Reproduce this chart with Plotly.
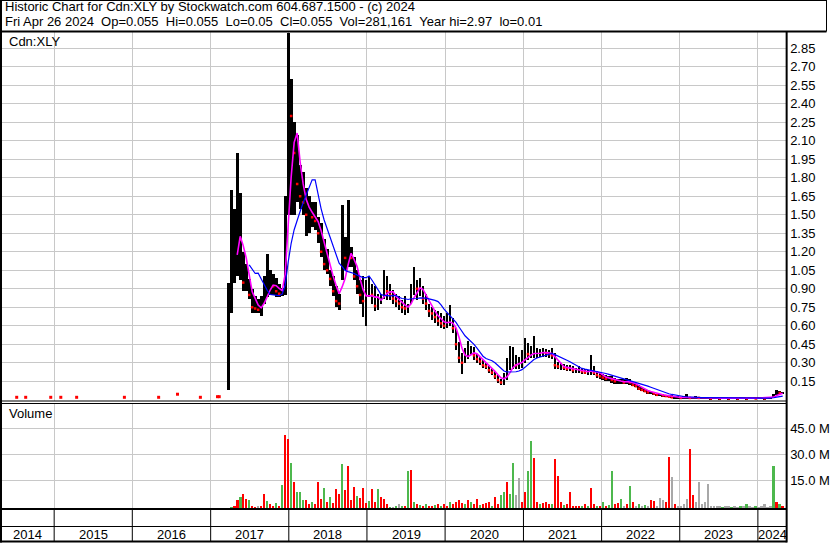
import pandas as pd
import plotly.graph_objects as go

W, H = 830, 543
FONT = "Liberation Sans, Arial, sans-serif"
GRID = "#c8c8c8"

# view window of the chart (10 years)
X0, X1 = "2014-04-23", "2024-05-12"

# biweekly bars, last one is Fri Apr 26 2024
bar_dates = pd.date_range(end="2024-04-26", periods=186, freq="14D")

highs = [
    0.95, 1.70, 1.55, 2.00, 1.68, 1.20, 1.10, 0.98, 0.90, 0.84,
    0.82, 0.84, 1.00, 1.18, 1.05, 1.02, 0.99, 0.94, 0.91, 1.65,
    2.97, 2.60, 2.25, 2.15, 1.90, 1.85, 1.72, 1.65, 1.60, 1.60,
    1.48, 1.43, 1.30, 1.22, 1.05, 1.00, 0.92, 0.86, 1.58, 1.32,
    1.62, 1.24, 1.16, 1.05, 0.97, 1.00, 0.97, 1.00, 0.94, 0.92,
    0.86, 0.86, 1.05, 1.00, 0.94, 0.89, 0.86, 0.84, 0.81, 0.84,
    0.78, 0.94, 1.08, 0.97, 0.99, 0.92, 0.86, 0.78, 0.75, 0.73,
    0.72, 0.70, 0.68, 0.70, 0.77, 0.66, 0.58, 0.47, 0.38, 0.42,
    0.48, 0.44, 0.43, 0.37, 0.35, 0.32, 0.30, 0.28, 0.26, 0.23,
    0.20, 0.17, 0.22, 0.34, 0.44, 0.43, 0.36, 0.35, 0.40, 0.50,
    0.46, 0.44, 0.52, 0.42, 0.41, 0.42, 0.41, 0.40, 0.42, 0.38,
    0.31, 0.30, 0.29, 0.28, 0.28, 0.27, 0.26, 0.27, 0.26, 0.25,
    0.24, 0.36, 0.27, 0.23, 0.22, 0.21, 0.20, 0.19, 0.19, 0.18,
    0.17, 0.17, 0.17, 0.18, 0.17, 0.14, 0.13, 0.12, 0.10, 0.09,
    0.08, 0.07, 0.06, 0.05, 0.05, 0.045, 0.04, 0.04, 0.035, 0.03,
    0.03, 0.025, 0.03, 0.045, 0.025, 0.025, 0.03, 0.025, 0.025, 0.02,
    0.025, 0.02, 0.025, 0.025, 0.02, 0.02, 0.025, 0.02, 0.02, 0.025,
    0.02, 0.02, 0.025, 0.02, 0.02, 0.02, 0.025, 0.02, 0.02, 0.02,
    0.025, 0.025, 0.05, 0.08, 0.07, 0.065,
]
lows = [
    0.08, 0.70, 0.95, 1.00, 0.97, 0.88, 0.88, 0.82, 0.70, 0.70,
    0.70, 0.68, 0.78, 0.83, 0.85, 0.85, 0.83, 0.83, 0.84, 0.85,
    1.50, 1.50, 1.50, 1.60, 1.55, 1.50, 1.33, 1.35, 1.40, 1.38,
    1.27, 1.16, 1.05, 1.02, 0.92, 0.84, 0.75, 0.73, 0.97, 1.05,
    1.08, 1.08, 0.97, 0.86, 0.78, 0.67, 0.60, 0.83, 0.78, 0.72,
    0.73, 0.78, 0.82, 0.81, 0.81, 0.78, 0.75, 0.73, 0.70, 0.69,
    0.70, 0.78, 0.85, 0.81, 0.84, 0.78, 0.73, 0.67, 0.65, 0.62,
    0.60, 0.58, 0.57, 0.58, 0.60, 0.54, 0.40, 0.30, 0.21, 0.30,
    0.33, 0.36, 0.32, 0.30, 0.28, 0.26, 0.25, 0.22, 0.20, 0.17,
    0.14, 0.12, 0.12, 0.16, 0.24, 0.25, 0.25, 0.25, 0.26, 0.30,
    0.32, 0.34, 0.34, 0.34, 0.35, 0.35, 0.35, 0.34, 0.33, 0.25,
    0.25, 0.24, 0.24, 0.23, 0.23, 0.22, 0.22, 0.22, 0.21, 0.21,
    0.20, 0.20, 0.20, 0.18, 0.17, 0.16, 0.15, 0.15, 0.14, 0.13,
    0.13, 0.13, 0.13, 0.13, 0.12, 0.11, 0.10, 0.08, 0.07, 0.06,
    0.05, 0.05, 0.04, 0.03, 0.03, 0.025, 0.02, 0.02, 0.015, 0.01,
    0.01, 0.01, 0.01, 0.01, 0.01, 0.005, 0.01, 0.01, 0.005, 0.01,
    0.01, 0.005, 0.01, 0.01, 0.005, 0.01, 0.01, 0.005, 0.01, 0.01,
    0.005, 0.01, 0.01, 0.005, 0.01, 0.01, 0.005, 0.01, 0.01, 0.005,
    0.01, 0.01, 0.015, 0.035, 0.045, 0.05,
]
closes = [
    0.70, 1.25, 1.35, 1.40, 1.30, 0.95, 0.95, 0.85, 0.75, 0.74,
    0.73, 0.76, 0.90, 0.95, 0.95, 0.92, 0.88, 0.86, 0.88, 1.45,
    2.60, 2.30, 2.00, 1.75, 1.65, 1.60, 1.50, 1.50, 1.48, 1.45,
    1.35, 1.20, 1.10, 1.05, 0.98, 0.88, 0.80, 0.78, 1.20, 1.15,
    1.25, 1.15, 1.00, 0.92, 0.85, 0.80, 0.80, 0.92, 0.85, 0.76,
    0.80, 0.82, 0.95, 0.88, 0.85, 0.82, 0.80, 0.78, 0.75, 0.74,
    0.74, 0.88, 0.95, 0.90, 0.90, 0.82, 0.78, 0.72, 0.70, 0.67,
    0.64, 0.62, 0.60, 0.64, 0.66, 0.58, 0.45, 0.34, 0.30, 0.36,
    0.40, 0.40, 0.36, 0.33, 0.31, 0.28, 0.27, 0.24, 0.22, 0.19,
    0.16, 0.14, 0.19, 0.25, 0.30, 0.30, 0.28, 0.30, 0.33, 0.38,
    0.37, 0.37, 0.38, 0.38, 0.38, 0.39, 0.38, 0.37, 0.36, 0.28,
    0.27, 0.27, 0.26, 0.25, 0.26, 0.24, 0.24, 0.24, 0.23, 0.22,
    0.22, 0.26, 0.22, 0.20, 0.19, 0.18, 0.17, 0.17, 0.16, 0.15,
    0.15, 0.15, 0.14, 0.15, 0.14, 0.12, 0.11, 0.09, 0.08, 0.07,
    0.06, 0.06, 0.05, 0.04, 0.04, 0.035, 0.03, 0.025, 0.02, 0.02,
    0.02, 0.015, 0.02, 0.02, 0.015, 0.015, 0.02, 0.015, 0.015, 0.015,
    0.015, 0.01, 0.015, 0.015, 0.01, 0.015, 0.015, 0.01, 0.015, 0.015,
    0.01, 0.015, 0.015, 0.01, 0.015, 0.015, 0.01, 0.015, 0.015, 0.01,
    0.015, 0.02, 0.04, 0.06, 0.055, 0.055,
]
# volume in millions of shares
volumes = [
    0.5, 0.8, 2.0, 5.5, 7.0, 9.0, 6.0, 5.5, 1.5, 1.0,
    2.0, 1.5, 9.0, 4.5, 3.0, 2.0, 3.5, 1.5, 14.0, 43.0,
    41.0, 27.0, 16.0, 10.0, 10.0, 5.0, 5.5, 3.0, 4.0, 3.0,
    16.0, 6.0, 12.4, 4.0, 7.0, 3.5, 11.5, 8.6, 26.0, 11.0,
    25.0, 5.0, 12.6, 7.5, 6.4, 12.0, 3.5, 4.5, 11.5, 4.0,
    11.5, 7.0, 6.0, 3.0, 1.0, 1.0, 1.5, 3.0, 2.0, 1.5,
    22.0, 23.0, 4.0, 3.0, 2.5, 2.0, 3.0, 2.0, 2.0, 2.5,
    3.0, 2.0, 3.0, 2.0, 4.0, 3.0, 4.0, 5.0, 3.5, 3.0,
    5.5, 4.0, 3.0, 6.0, 2.5, 3.0, 3.5, 4.0, 2.0, 7.0,
    3.0, 8.0, 10.0, 15.5, 9.0, 27.0, 8.0, 18.0, 4.0, 10.0,
    22.0, 40.0, 30.0, 4.0, 3.0, 3.5, 4.0, 3.0, 3.0, 29.5,
    19.0, 4.0, 2.5, 3.0, 10.0, 2.0, 2.0, 1.5, 2.0, 3.0,
    2.0, 12.0, 3.0, 2.0, 2.0, 4.0, 2.0, 2.5, 22.0, 3.0,
    3.5, 6.0, 2.0, 3.0, 13.5, 4.0, 2.0, 3.0, 2.0, 2.5,
    1.5, 5.0, 4.5, 2.0, 6.5, 5.5, 4.0, 30.5, 18.6, 3.0,
    2.0, 1.5, 3.0, 6.0, 35.0, 8.0, 4.0, 15.5, 3.0, 4.0,
    14.6, 2.0, 1.5, 2.0, 1.5, 1.0, 2.0, 1.5, 1.0, 1.5,
    1.0, 1.5, 2.0, 3.0, 1.5, 1.0, 1.5, 1.0, 1.5, 3.0,
    1.0, 1.5, 25.0, 4.0, 3.0, 1.5,
]
# r = down, g = up, n = unchanged
vol_dirs = (
    "ggrrgrrgrr" "nrrgrrgrgr" "rgrgggrrgr" "rrgrgrrrgr" "rrrgrrrgrr"
    "grrrgngngr" "grgrgrgrrg" "rgrrgrrrrg" "rgrrgrrrgr" "rggrggnnrr"
    "ggrrgrrrgr" "rrgrrrrrgr" "grrgrgrggr" "rgnrgrngng" "nrrnnnrrnr"
    "nnnnrrnnnn" "nnnnngnngn" "ngngnngnnn" "nngrgr"
)

# thin trading before the 2017 run-up
pre_dates = ["2014-07-10", "2014-08-21", "2014-12-16", "2015-02-01", "2015-04-16",
             "2015-11-25", "2016-05-03", "2016-07-30", "2016-11-14", "2017-02-02",
             "2017-02-10"]
pre_closes = [0.02, 0.02, 0.02, 0.02, 0.02, 0.02, 0.02, 0.045, 0.02, 0.025, 0.025]
pre_volumes = [0.4, 0.4, 0.4, 0.4, 0.4, 0.4, 0.4, 0.4, 0.4, 0.4, 0.4]
pre_dirs = "gnnnnnggrgg"

price_ticks = [0.15 * i for i in range(1, 20)]
vol_ticks = [15, 30, 45]
years = list(range(2014, 2025))

DIR_COLORS = {"r": "#ff0000", "g": "#4db84d", "n": "#a8a8a8"}


def fx(p):
    return p / W


def fy(p):
    return 1 - p / H


bar_w = 13 * 86400000  # ms

ma_short = pd.Series(closes).rolling(4).mean()
ma_long = pd.Series(closes).rolling(10, min_periods=8).mean()

down = [i for i in range(1, len(closes)) if closes[i] < closes[i - 1]]

fig = go.Figure()

fig.add_trace(go.Bar(
    x=bar_dates, y=[h - l for h, l in zip(highs, lows)], base=lows,
    width=bar_w, marker_color="black", marker_line_width=0,
    xaxis="x", yaxis="y", hoverinfo="skip"
))
fig.add_trace(go.Scatter(
    x=[bar_dates[i] for i in down], y=[closes[i] for i in down],
    mode="markers", marker=dict(color="#ff0000", size=2.5, symbol="square"),
    xaxis="x", yaxis="y"
))
fig.add_trace(go.Scatter(
    x=pre_dates, y=pre_closes, mode="markers",
    marker=dict(color="#ff0000", size=3, symbol="square"),
    xaxis="x", yaxis="y"
))
fig.add_trace(go.Scatter(
    x=bar_dates, y=ma_short, mode="lines",
    line=dict(color="#ff00ff", width=1.6), xaxis="x", yaxis="y"
))
fig.add_trace(go.Scatter(
    x=bar_dates, y=ma_long, mode="lines",
    line=dict(color="#0000ff", width=1.2), xaxis="x", yaxis="y"
))

all_vol_x = list(pd.to_datetime(pre_dates)) + list(bar_dates)
all_vol = pre_volumes + volumes
all_dirs = pre_dirs + vol_dirs
fig.add_trace(go.Bar(
    x=all_vol_x, y=all_vol, base=-1.57,
    width=12 * 86400000, marker_color=[DIR_COLORS[d] for d in all_dirs],
    marker_line_width=0, xaxis="x2", yaxis="y2", hoverinfo="skip"
))

year_starts = [f"{y}-01-01" for y in years[1:]]

axis_common = dict(
    type="date", range=[X0, X1], domain=[fx(0), fx(789)],
    tickvals=year_starts, showticklabels=False, ticks="",
    showgrid=True, gridcolor=GRID, gridwidth=1,
    zeroline=False, showline=False, fixedrange=True,
)

shapes = []


def hline(y, x0, x1, w):
    shapes.append(dict(type="line", xref="paper", yref="paper",
                       x0=fx(x0), x1=fx(x1), y0=fy(y), y1=fy(y),
                       line=dict(color="black", width=w)))


def vline(x, y0, y1, w):
    shapes.append(dict(type="line", xref="paper", yref="paper",
                       x0=fx(x), x1=fx(x), y0=fy(y0), y1=fy(y1),
                       line=dict(color="black", width=w)))


# frame
hline(0.5, 0, 829.5, 1)
hline(31.5, 0, 829.5, 2)
vline(829.5, 0, 31.5, 1)
vline(1, 0, 542.5, 2)
vline(789.5, 31, 542.5, 2)
hline(401, 0, 789.5, 1)
hline(403.5, 0, 789.5, 1)
hline(509, 0, 789.5, 2)
hline(526.5, 0, 789.5, 1)
hline(541.5, 0, 789.5, 2)

# year separators in the date strip
for ys in year_starts:
    shapes.append(dict(type="line", xref="x", yref="paper", x0=ys, x1=ys,
                       y0=fy(509), y1=fy(541.5),
                       line=dict(color="black", width=1)))

annotations = [
    dict(text="Historic Chart for Cdn:XLY by Stockwatch.com 604.687.1500 - (c) 2024",
         x=fx(3), y=fy(6.5)),
    dict(text="Fri Apr 26 2024  Op=0.055  Hi=0.055  Lo=0.05  Cl=0.055  "
              "Vol=281,161  Year hi=2.97  lo=0.01",
         x=fx(3), y=fy(21.3)),
    dict(text="Cdn:XLY", x=fx(7), y=fy(41.5)),
    dict(text="Volume", x=fx(7), y=fy(413.8)),
]
for a in annotations:
    a.update(xref="paper", yref="paper", xanchor="left", yanchor="middle",
             showarrow=False, font=dict(family=FONT, size=13, color="black"))

t0, t1 = pd.Timestamp(X0), pd.Timestamp(X1)
for y in years:
    s = max(pd.Timestamp(f"{y}-01-01"), t0)
    e = min(pd.Timestamp(f"{y + 1}-01-01"), t1)
    annotations.append(dict(
        text=str(y), x=s + (e - s) / 2, y=fy(534.5), xref="x", yref="paper",
        xanchor="center", yanchor="middle", showarrow=False,
        font=dict(family=FONT, size=13, color="black")))

fig.update_layout(
    width=W, height=H,
    margin=dict(l=0, r=0, t=0, b=0),
    paper_bgcolor="white", plot_bgcolor="white",
    showlegend=False, barmode="overlay", bargap=0,
    font=dict(family=FONT, size=13, color="black"),
    xaxis=dict(axis_common, anchor="y"),
    xaxis2=dict(axis_common, anchor="y2", matches="x"),
    yaxis=dict(
        domain=[fy(401), fy(31)], range=[-0.01, 2.99], side="right", anchor="x",
        tickvals=price_ticks, ticktext=[f"{v:.2f}" for v in price_ticks],
        ticks="", ticklabelstandoff=3, showgrid=True, gridcolor=GRID,
        zeroline=False, showline=False, fixedrange=True,
        tickfont=dict(family=FONT, size=13, color="black"),
    ),
    yaxis2=dict(
        domain=[fy(508.5), fy(403.5)], range=[-1.57, 59.77], side="right", anchor="x2",
        tickvals=vol_ticks, ticktext=[f"{v:.1f} M" for v in vol_ticks],
        ticks="", ticklabelstandoff=3, showgrid=True, gridcolor=GRID,
        zeroline=False, showline=False, fixedrange=True,
        tickfont=dict(family=FONT, size=13, color="black"),
    ),
    shapes=shapes,
    annotations=annotations,
)

# the page body has a default 8px margin; drop it so the chart sits at 0,0
fig.write_html("out.html", config={"displayModeBar": False},
               post_script="document.body.style.margin='0';")
